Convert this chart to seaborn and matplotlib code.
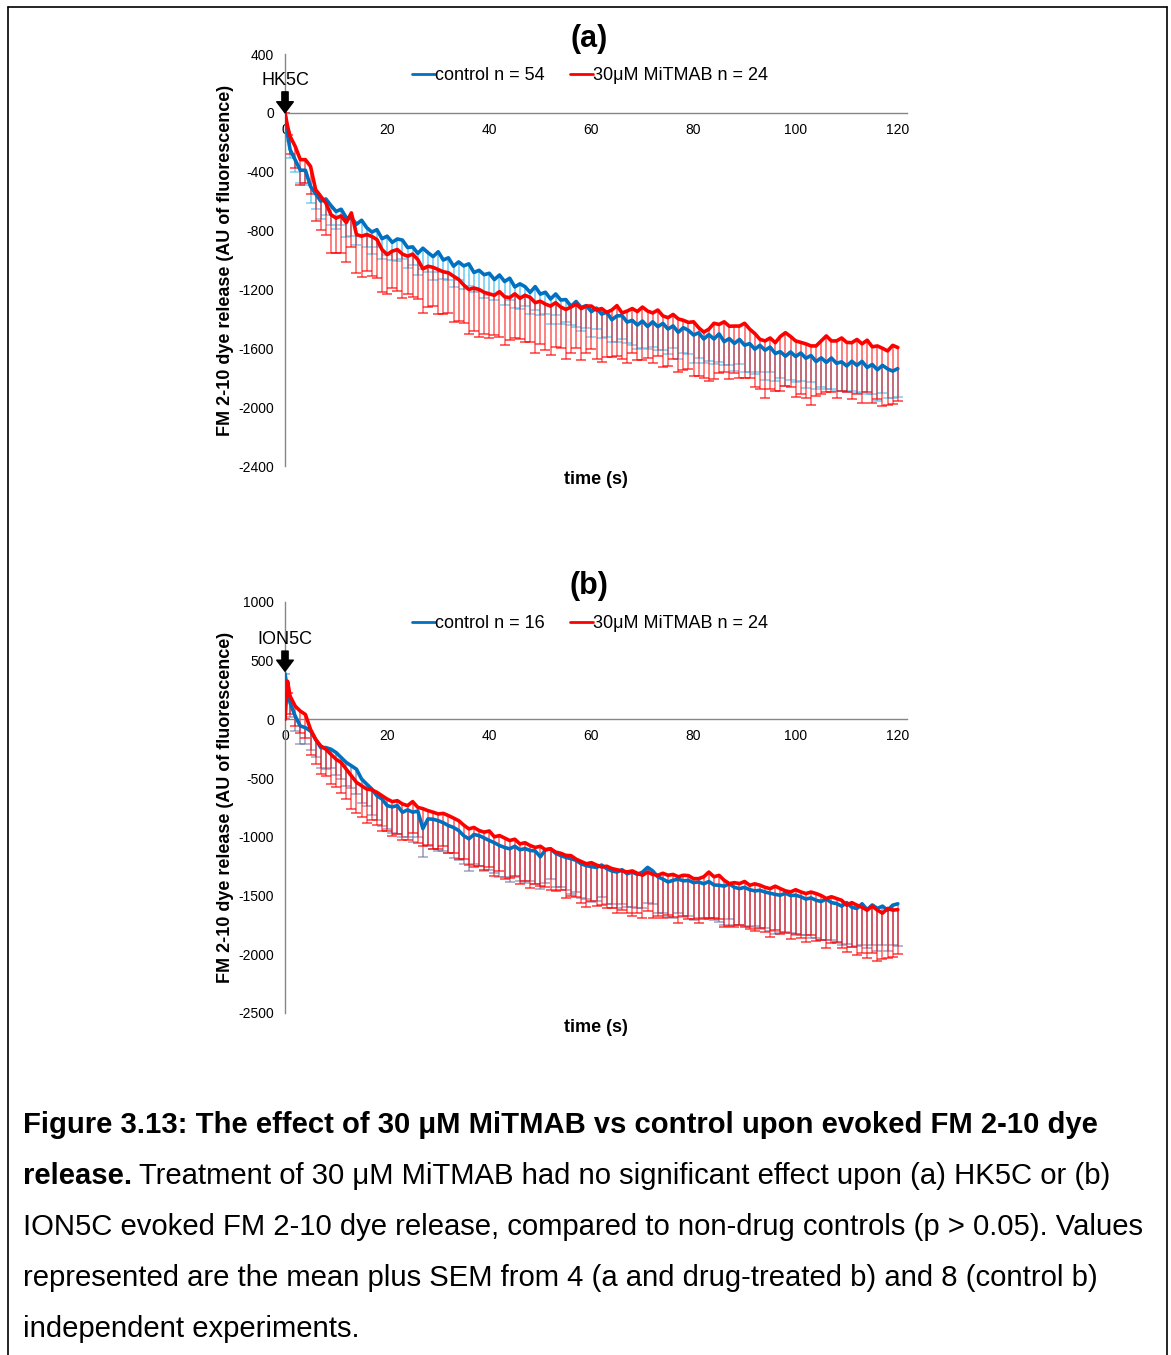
import numpy as np
import matplotlib
matplotlib.use("Agg")
import matplotlib.pyplot as plt
from matplotlib.lines import Line2D
import seaborn as sns

# ---------------- data ----------------
# time points (s): 0, 0.5, then 1..120
time_s = np.concatenate(([0.0, 0.5], np.arange(1, 121)))

# Panel (a) HK5C
control_a = [0, -150,
    -250, -320, -390, -390, -500, -550, -600, -585, -630, -670,
    -655, -713, -715, -757, -730, -780, -810, -794, -855, -838,
    -880, -857, -865, -915, -911, -955, -920, -950, -977, -944,
    -1000, -985, -1042, -1013, -1040, -1026, -1085, -1070, -1100, -1090,
    -1133, -1102, -1146, -1124, -1183, -1162, -1181, -1220, -1181, -1232,
    -1219, -1265, -1231, -1272, -1269, -1315, -1282, -1323, -1310, -1351,
    -1327, -1368, -1355, -1406, -1380, -1378, -1422, -1410, -1442, -1415,
    -1452, -1420, -1453, -1431, -1469, -1448, -1491, -1460, -1478, -1510,
    -1495, -1537, -1507, -1537, -1502, -1555, -1534, -1567, -1540, -1579,
    -1568, -1606, -1580, -1613, -1592, -1635, -1623, -1654, -1625, -1656,
    -1632, -1668, -1649, -1690, -1665, -1696, -1666, -1702, -1692, -1720,
    -1688, -1716, -1689, -1730, -1710, -1746, -1716, -1740, -1755, -1738]
sem_control_a = [0, 40,
    60, 80, 90, 100, 110, 100, 120, 110, 130, 120,
    110, 130, 120, 140, 110, 130, 150, 120, 140, 130,
    120, 150, 130, 140, 120, 150, 140, 130, 160, 140,
    130, 150, 140, 120, 160, 150, 130, 140, 160, 150,
    140, 130, 160, 150, 140, 170, 130, 150, 160, 140,
    150, 170, 140, 160, 150, 130, 170, 160, 150, 170,
    140, 160, 170, 150, 180, 160, 140, 170, 160, 180,
    150, 170, 160, 180, 170, 150, 180, 170, 160, 190,
    170, 160, 180, 170, 190, 160, 180, 190, 170, 180,
    190, 170, 180, 200, 170, 190, 180, 200, 190, 170,
    190, 200, 180, 190, 200, 180, 210, 190, 200, 180,
    200, 190, 210, 180, 200, 210, 190, 200, 180, 190]
mitmab_a = [0, -90,
    -160, -228, -318, -318, -364, -522, -567, -613, -692, -715,
    -700, -746, -680, -827, -838, -827, -840, -861, -929, -963,
    -940, -929, -960, -974, -960, -997, -1060, -1042, -1050, -1065,
    -1080, -1087, -1110, -1132, -1170, -1200, -1190, -1200, -1220, -1230,
    -1240, -1215, -1250, -1256, -1230, -1260, -1240, -1254, -1290, -1280,
    -1300, -1313, -1290, -1320, -1336, -1320, -1300, -1330, -1313, -1313,
    -1340, -1330, -1356, -1340, -1310, -1360, -1347, -1330, -1350, -1320,
    -1347, -1360, -1340, -1380, -1392, -1370, -1400, -1410, -1424, -1420,
    -1460, -1490, -1470, -1430, -1438, -1420, -1450, -1449, -1449, -1430,
    -1470, -1500, -1539, -1550, -1530, -1562, -1520, -1494, -1520, -1550,
    -1560, -1570, -1584, -1584, -1550, -1516, -1550, -1550, -1530, -1560,
    -1562, -1540, -1570, -1545, -1590, -1584, -1600, -1618, -1580, -1595]
sem_mitmab_a = [0, 60,
    120, 150, 170, 160, 190, 210, 230, 220, 260, 240,
    250, 270, 230, 260, 280, 250, 270, 260, 290, 270,
    250, 280, 300, 260, 290, 270, 300, 280, 260, 300,
    290, 270, 310, 280, 260, 300, 290, 320, 280, 300,
    270, 310, 330, 290, 300, 280, 320, 300, 340, 290,
    310, 330, 300, 280, 340, 310, 300, 350, 320, 290,
    330, 360, 300, 320, 340, 310, 350, 300, 330, 360,
    320, 340, 310, 350, 330, 300, 360, 340, 320, 370,
    330, 310, 350, 380, 330, 340, 360, 320, 350, 370,
    330, 360, 340, 390, 350, 330, 370, 360, 340, 380,
    350, 370, 400, 340, 360, 380, 350, 390, 360, 340,
    380, 370, 400, 350, 380, 360, 390, 370, 400, 360]

# Panel (b) ION5C
control_b = [390, 250,
    141, 28, -56, -70, -99, -170, -240, -240, -254, -282,
    -325, -367, -395, -424, -508, -551, -593, -650, -678, -734,
    -745, -734, -791, -770, -790, -780, -930, -847, -850, -862,
    -880, -904, -920, -946, -990, -1017, -980, -989, -1010, -1031,
    -1050, -1074, -1090, -1102, -1080, -1110, -1100, -1116, -1120, -1170,
    -1110, -1102, -1140, -1160, -1175, -1186, -1200, -1230, -1245, -1254,
    -1260, -1240, -1271, -1290, -1300, -1280, -1314, -1300, -1320, -1300,
    -1260, -1290, -1340, -1360, -1384, -1370, -1360, -1375, -1370, -1390,
    -1384, -1400, -1380, -1410, -1412, -1420, -1400, -1430, -1441, -1430,
    -1450, -1460, -1455, -1470, -1480, -1490, -1497, -1480, -1500, -1497,
    -1510, -1530, -1520, -1540, -1550, -1530, -1560, -1568, -1590, -1560,
    -1600, -1610, -1570, -1620, -1580, -1610, -1590, -1625, -1582, -1570]
sem_control_b = [0, 80,
    120, 130, 150, 140, 160, 150, 170, 180, 160, 190,
    180, 200, 190, 210, 200, 190, 220, 210, 230, 200,
    220, 240, 210, 230, 250, 220, 240, 230, 250, 260,
    240, 230, 260, 250, 240, 270, 250, 260, 280, 250,
    260, 270, 250, 280, 260, 270, 290, 260, 280, 270,
    280, 260, 290, 270, 280, 300, 270, 290, 280, 300,
    290, 270, 300, 280, 310, 290, 280, 300, 290, 310,
    300, 280, 310, 290, 300, 320, 290, 310, 300, 320,
    310, 290, 320, 300, 310, 330, 300, 320, 310, 330,
    320, 300, 330, 310, 320, 340, 310, 330, 320, 340,
    330, 310, 340, 320, 330, 350, 320, 340, 330, 350,
    340, 320, 350, 330, 340, 360, 330, 350, 340, 360]
mitmab_b = [0, 325,
    198, 113, 71, 42, -85, -170, -226, -254, -297, -339,
    -367, -424, -480, -536, -565, -593, -600, -621, -650, -678,
    -700, -692, -720, -734, -700, -749, -760, -777, -790, -805,
    -800, -819, -840, -862, -900, -932, -920, -946, -960, -950,
    -1000, -989, -1010, -1031, -1020, -1060, -1050, -1074, -1090, -1080,
    -1110, -1102, -1130, -1140, -1158, -1160, -1190, -1210, -1229, -1220,
    -1240, -1257, -1250, -1270, -1280, -1290, -1299, -1290, -1310, -1327,
    -1300, -1320, -1327, -1310, -1327, -1320, -1340, -1327, -1330, -1356,
    -1356, -1340, -1300, -1340, -1328, -1370, -1398, -1390, -1398, -1380,
    -1412, -1400, -1412, -1430, -1441, -1420, -1441, -1460, -1469, -1450,
    -1469, -1483, -1470, -1483, -1500, -1525, -1510, -1525, -1540, -1582,
    -1560, -1582, -1600, -1624, -1590, -1624, -1650, -1610, -1624, -1620]
sem_mitmab_b = [0, 100,
    150, 170, 190, 200, 220, 210, 240, 230, 250, 240,
    260, 250, 280, 260, 270, 290, 260, 280, 300, 270,
    290, 280, 310, 290, 270, 300, 320, 290, 310, 300,
    280, 320, 300, 330, 290, 310, 340, 300, 320, 310,
    330, 300, 350, 320, 310, 340, 330, 360, 310, 340,
    320, 350, 330, 310, 360, 340, 320, 350, 370, 330,
    350, 320, 360, 340, 370, 330, 350, 380, 340, 360,
    330, 370, 350, 380, 340, 360, 390, 350, 370, 340,
    380, 360, 390, 350, 370, 400, 360, 380, 350, 390,
    370, 400, 360, 380, 410, 370, 390, 360, 400, 380,
    390, 410, 370, 400, 380, 420, 390, 370, 410, 400,
    380, 420, 390, 410, 400, 430, 390, 420, 400, 380]

panel_titles = ["(a)", "(b)"]
stimuli = ["HK5C", "ION5C"]
control_labels = ["control n = 54", "control n = 16"]
mitmab_label = "30\u03bcM MiTMAB n = 24"
y_ticks_a = [-2400, -2000, -1600, -1200, -800, -400, 0, 400]
y_ticks_b = [-2500, -2000, -1500, -1000, -500, 0, 500, 1000]
x_ticks = [0, 20, 40, 60, 80, 100, 120]
y_label = "FM 2-10 dye release (AU of fluorescence)"
x_label = "time (s)"

# ---------------- style ----------------
sns.set_style("white")
plt.rcParams['font.family'] = ['Liberation Sans', 'DejaVu Sans']
plt.rcParams['axes.unicode_minus'] = False
plt.rcParams['text.color'] = 'black'
plt.rcParams['axes.labelcolor'] = 'black'
plt.rcParams['xtick.color'] = 'black'
plt.rcParams['ytick.color'] = 'black'

W, H = 1171, 1355
fig = plt.figure(figsize=(W / 100, H / 100), dpi=100)
fig.patch.set_facecolor('white')

BLUE = '#0070C0'
RED = '#FF0000'
SPINE = '#868686'

def fx(px):
    return px / W

def fy(py):
    return 1 - py / H

panels = [
    dict(top=54, bottom=466, ctrl=control_a, sctrl=sem_control_a, drug=mitmab_a,
         sdrug=sem_mitmab_a, ylim=(-2400, 400), yticks=y_ticks_a,
         ctrl_err='#2EB4EE', ctrl_err_alpha=0.6, arrow_tip=0, arrow_tail=165,
         title_y=39),
    dict(top=602, bottom=1013, ctrl=control_b, sctrl=sem_control_b, drug=mitmab_b,
         sdrug=sem_mitmab_b, ylim=(-2500, 1000), yticks=y_ticks_b,
         ctrl_err='#6E6E9E', ctrl_err_alpha=0.6, arrow_tip=410, arrow_tail=610,
         title_y=586),
]

left_px, right_px = 285, 907
for i, p in enumerate(panels):
    ax = fig.add_axes([fx(left_px), fy(p['bottom']), (right_px - left_px) / W,
                       (p['bottom'] - p['top']) / H])
    ax.set_facecolor('white')
    t = time_s
    ctrl = np.array(p['ctrl'], float)
    sctrl = np.array(p['sctrl'], float)
    drug = np.array(p['drug'], float)
    sdrug = np.array(p['sdrug'], float)

    # error bars (mean - SEM), drawn downward only
    ax.vlines(t, ctrl - sctrl, ctrl, colors=p['ctrl_err'], linewidth=1.3,
              alpha=p['ctrl_err_alpha'], zorder=1)
    ax.scatter(t, ctrl - sctrl, marker='_', s=45, linewidths=1.2,
               color=p['ctrl_err'], alpha=p['ctrl_err_alpha'], zorder=1)
    ax.vlines(t, drug - sdrug, drug, colors=RED, linewidth=1.4, alpha=0.5, zorder=2)
    ax.scatter(t, drug - sdrug, marker='_', s=45, linewidths=1.2,
               color=RED, alpha=0.7, zorder=2)

    sns.lineplot(x=t, y=ctrl, ax=ax, color=BLUE, linewidth=2.6, estimator=None,
                 legend=False, zorder=3)
    sns.lineplot(x=t, y=drug, ax=ax, color=RED, linewidth=2.6, estimator=None,
                 legend=False, zorder=4)

    ax.set_xlim(0, 121.8)
    ax.set_ylim(*p['ylim'])
    ax.set_xticks(x_ticks)
    ax.set_yticks(p['yticks'])
    ax.set_xticklabels([str(v) for v in x_ticks])
    ax.set_yticklabels([str(v) for v in p['yticks']])
    ax.set_xlabel('')
    ax.set_ylabel('')

    for s in ['top', 'right']:
        ax.spines[s].set_visible(False)
    ax.spines['bottom'].set_position(('data', 0))
    for s in ['left', 'bottom']:
        ax.spines[s].set_color(SPINE)
        ax.spines[s].set_linewidth(1.0)
    ax.tick_params(axis='x', direction='out', length=4, width=1, color=SPINE,
                   labelsize=10, pad=3, labelcolor='black')
    ax.tick_params(axis='y', direction='out', length=4, width=1, color=SPINE,
                   labelsize=10, pad=4, labelcolor='black')
    ax.grid(False)

    # y label
    ax.text(-(left_px - 226) / (right_px - left_px), 0.5, y_label, rotation=90,
            transform=ax.transAxes, ha='center', va='center', fontsize=13,
            fontweight='bold', color='black')
    # x label
    ax.text((596 - left_px) / (right_px - left_px),
            -(14) / (p['bottom'] - p['top']), x_label, transform=ax.transAxes,
            ha='center', va='center', fontsize=13, fontweight='bold', color='black')

    # legend
    handles = [Line2D([], [], color=BLUE, linewidth=2),
               Line2D([], [], color=RED, linewidth=2)]
    leg = ax.legend(handles, [control_labels[i], mitmab_label], loc='center',
                    bbox_to_anchor=((590 - left_px) / (right_px - left_px),
                                    (p['bottom'] - (p['top'] + 22)) / (p['bottom'] - p['top'])),
                    ncol=2, frameon=False, handlelength=1.25, handletextpad=0.0,
                    columnspacing=1.4, fontsize=13, borderpad=0, borderaxespad=0)
    for txt in leg.get_texts():
        txt.set_color('black')

    # stimulus arrow
    ax.annotate(stimuli[i], xy=(0, p['arrow_tip']), xytext=(0, p['arrow_tail']),
                textcoords='data', ha='center', va='bottom', fontsize=13,
                annotation_clip=False, color='black',
                arrowprops=dict(facecolor='black', edgecolor='black', width=4.5,
                                headwidth=12, headlength=8, shrink=0.0), zorder=6)

    # panel title
    fig.text(fx(589), fy(p['title_y']), panel_titles[i], ha='center', va='center',
             fontsize=22, fontweight='bold', color='black')

# ---------------- caption ----------------
cap_fs = 21.1
base_ys = [1133, 1184, 1235, 1286, 1337]
x0 = fx(23)
fig.text(x0, fy(base_ys[0]),
         "Figure 3.13: The effect of 30 \u03bcM MiTMAB vs control upon evoked FM 2-10 dye",
         fontsize=cap_fs, fontweight='bold', va='baseline', ha='left', color='black')
t_bold = fig.text(x0, fy(base_ys[1]), "release.", fontsize=cap_fs, fontweight='bold',
                  va='baseline', ha='left', color='black')
renderer = fig.canvas.get_renderer()
bb = t_bold.get_window_extent(renderer=renderer)
fig.text((bb.x1 + 7) / W, fy(base_ys[1]),
         "Treatment of 30 \u03bcM MiTMAB had no significant effect upon (a) HK5C or (b)",
         fontsize=cap_fs, va='baseline', ha='left', color='black')
fig.text(x0, fy(base_ys[2]),
         "ION5C evoked FM 2-10 dye release, compared to non-drug controls (p > 0.05). Values",
         fontsize=cap_fs, va='baseline', ha='left', color='black')
fig.text(x0, fy(base_ys[3]),
         "represented are the mean plus SEM from 4 (a and drug-treated b) and 8 (control b)",
         fontsize=cap_fs, va='baseline', ha='left', color='black')
fig.text(x0, fy(base_ys[4]), "independent experiments.",
         fontsize=cap_fs, va='baseline', ha='left', color='black')

# ---------------- border ----------------
for xs, ys in [([8, 8], [7, H + 5]), ([1167, 1167], [7, H + 5]), ([8, 1167], [7, 7])]:
    fig.add_artist(Line2D([fx(v) for v in xs], [fy(v) for v in ys], color='black',
                          linewidth=1.2, transform=fig.transFigure))

fig.savefig('out.png', dpi=100, facecolor='white')
